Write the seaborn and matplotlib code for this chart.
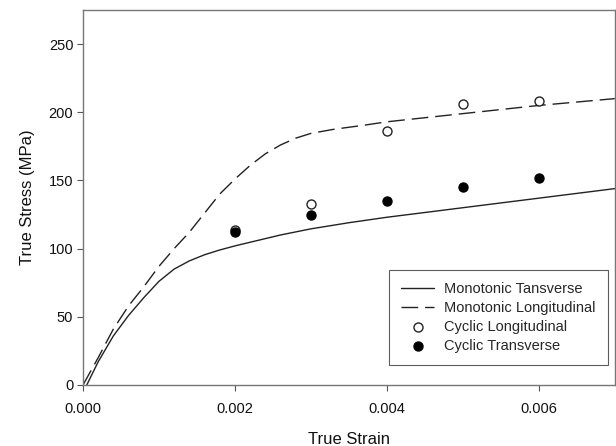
import pandas as pd
import seaborn as sns
import matplotlib.pyplot as plt
from matplotlib.ticker import FormatStrFormatter

# Monotonic curves
mono_trans_strain = [0.00005, 0.0002, 0.0004, 0.0006, 0.0008, 0.001, 0.0012, 0.0014,
                     0.0016, 0.0018, 0.002, 0.0023, 0.0026, 0.003, 0.0035, 0.004,
                     0.005, 0.006, 0.007]
mono_trans_stress = [0, 17, 36, 51, 64, 76, 85, 91, 95.5, 99, 102, 106, 110, 114.5,
                     119, 123, 130, 137, 144]

mono_long_strain = [0, 0.0002, 0.0004, 0.0006, 0.0008, 0.001, 0.0012, 0.0014, 0.0016,
                    0.0018, 0.002, 0.0022, 0.0024, 0.0026, 0.0028, 0.003, 0.0033,
                    0.0037, 0.004, 0.005, 0.006, 0.007]
mono_long_stress = [0, 20, 41, 58, 72, 87, 100, 112, 126, 140, 151, 161, 169.5, 176,
                    181, 184.5, 187.5, 190.5, 193, 199, 205, 210]

# Cyclic test points
cyclic_strain = [0.002, 0.003, 0.004, 0.005, 0.006]
cyclic_long = [114, 133, 186, 206, 208]
cyclic_trans = [112, 125, 135, 145, 152]

sns.set_style("white")
plt.rcParams['font.family'] = ['Liberation Sans', 'DejaVu Sans']

mt = pd.DataFrame({'strain': mono_trans_strain, 'stress': mono_trans_stress})
ml = pd.DataFrame({'strain': mono_long_strain, 'stress': mono_long_stress})
cl = pd.DataFrame({'strain': cyclic_strain, 'stress': cyclic_long})
ct = pd.DataFrame({'strain': cyclic_strain, 'stress': cyclic_trans})

fig = plt.figure(figsize=(6.16, 4.46), dpi=100)
ax = fig.add_axes([0.1347, 0.1368, 0.8633, 0.8408])

ink = '#222222'
sns.lineplot(data=mt, x='strain', y='stress', ax=ax, color=ink, linewidth=1.0,
             label='Monotonic Tansverse')
sns.lineplot(data=ml, x='strain', y='stress', ax=ax, color=ink, linewidth=1.0,
             dashes=False, label='Monotonic Longitudinal')
ax.lines[-1].set_dashes((12, 5))
sns.scatterplot(data=cl, x='strain', y='stress', ax=ax, s=42, facecolor='white',
                edgecolor=ink, linewidth=1.0, label='Cyclic Longitudinal', zorder=3)
sns.scatterplot(data=ct, x='strain', y='stress', ax=ax, s=42, color='black',
                edgecolor='black', linewidth=1.0, label='Cyclic Transverse', zorder=3)

ax.set_xlim(0, 0.007)
ax.set_ylim(0, 275)
ax.set_xticks([0, 0.002, 0.004, 0.006])
ax.set_yticks([0, 50, 100, 150, 200, 250])
ax.xaxis.set_major_formatter(FormatStrFormatter('%.3f'))
ax.tick_params(bottom=True, left=True, direction='out', length=4, width=0.8,
               color='#555555', labelsize=10.5, labelcolor='#111111', pad=3)
ax.tick_params(axis='x', pad=8)
for sp in ax.spines.values():
    sp.set_color('#777777')
    sp.set_linewidth(1.0)

ax.set_xlabel('True Strain', fontsize=12, color='#111111', labelpad=12)
ax.set_ylabel('True Stress (MPa)', fontsize=12, color='#111111', labelpad=10)

leg = ax.legend(loc='lower right', bbox_to_anchor=(0.987, 0.053), borderaxespad=0,
                fontsize=10.5, frameon=True, fancybox=False, edgecolor='#333333',
                handlelength=2.3, handletextpad=0.65, labelspacing=0.33,
                borderpad=0.85)
leg.get_frame().set_linewidth(0.8)

fig.savefig('out.png', dpi=100)
